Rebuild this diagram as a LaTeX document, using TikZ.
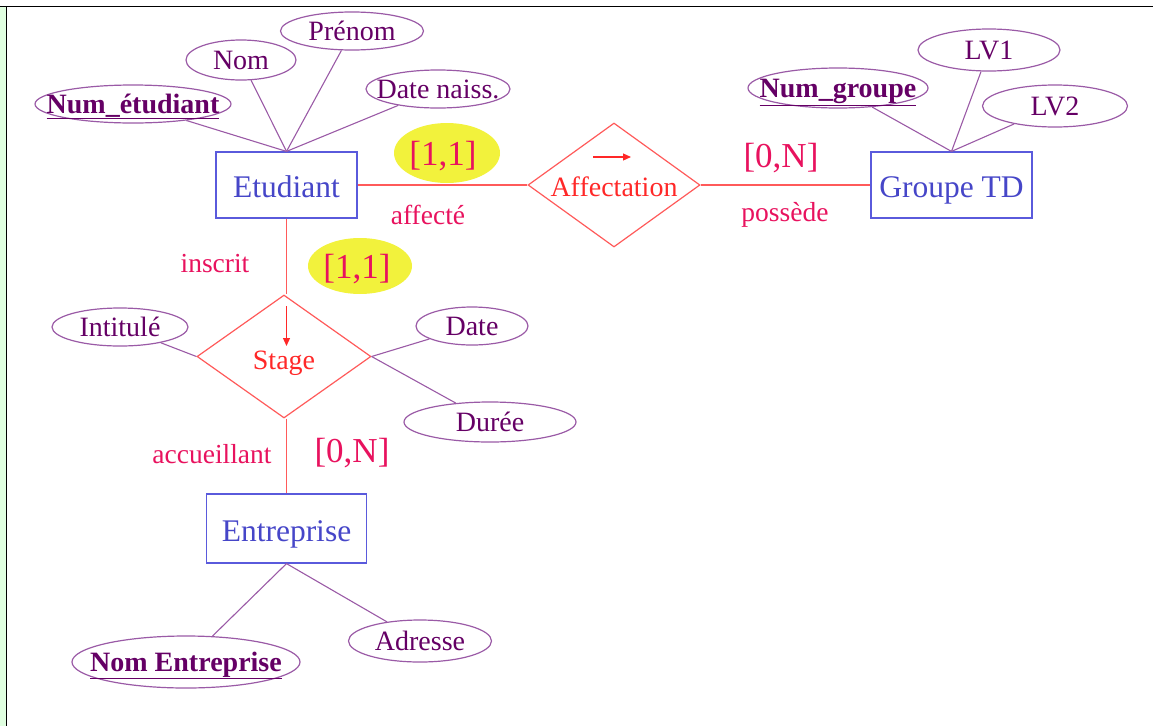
\documentclass[tikz,border=0pt]{standalone}
\usepackage{fontspec}
\setmainfont{Liberation Serif}
\usetikzlibrary{shapes.geometric,arrows.meta}
\definecolor{entblue}{HTML}{5A5ADC}
\definecolor{enttext}{HTML}{4646C8}
\definecolor{relred}{HTML}{FF5A5A}
\definecolor{reltext}{HTML}{FF2828}
\definecolor{attrline}{HTML}{9A5AA6}
\definecolor{attrtext}{HTML}{650065}
\definecolor{cardcol}{HTML}{E8125E}
\definecolor{hilite}{HTML}{F2F23C}
\definecolor{stripgreen}{HTML}{E0FFE0}
\newcommand{\ctxt}[2][-0.33em]{\raisebox{#1}[0pt][0pt]{\makebox[0pt]{#2}}}
\tikzset{
  entity/.style={draw=entblue, line width=1.2pt, text=enttext, minimum width=141, minimum height=66, inner sep=0, font=\fontsize{31.5}{34}\selectfont},
  relation/.style={shape=diamond, draw=relred, line width=1.2pt, text=reltext, inner sep=0, aspect=1.4, font=\fontsize{28}{30}\selectfont},
  attr/.style={shape=ellipse, draw=attrline, line width=1.2pt, text=attrtext, inner sep=0, font=\fontsize{28}{30}\selectfont},
  keyattr/.style={attr, font=\fontsize{28}{30}\selectfont\bfseries},
  attrlink/.style={draw=attrline, line width=1.1pt},
  rellink/.style={draw=relred, line width=1.1pt},
  card/.style={text=cardcol, inner sep=0, font=\fontsize{35}{38}\selectfont},
  role/.style={text=cardcol, inner sep=0, font=\fontsize{27.5}{30}\selectfont},
  hl/.style={shape=ellipse, fill=hilite, inner sep=0},
  tip/.style={draw=reltext, line width=1.2pt, -{Triangle[length=8pt,width=7pt]}}
}
\begin{document}
\begin{tikzpicture}[x=1pt,y=-1pt]
\useasboundingbox (0,0) rectangle (1153,726);
\fill[stripgreen] (0,7) rectangle (5.5,726);
\draw[black, line width=1.2pt] (0,6.5) -- (1153,6.5);
\draw[black, line width=1.2pt] (6.5,6.5) -- (6.5,726);

% highlights
\node[hl, minimum width=106, minimum height=60] (hlA) at (447,153) {};
\node[hl, minimum width=104, minimum height=56] (hlB) at (360,266) {};

% entities
\node[entity] (etu) at (286.5,185) {\ctxt[-0.4em]{Etudiant}};
\node[entity, minimum width=161] (grp) at (951.5,185) {\ctxt[-0.4em]{Groupe TD}};
\node[entity, minimum width=160, minimum height=69] (ent) at (286.5,528.5) {\ctxt[-0.4em]{Entreprise}};

% relations
\node[relation, minimum width=172, minimum height=124] (aff) at (614,185) {\ctxt[-0.4em]{Affectation}};
\node[relation, minimum width=174, minimum height=123] (stg) at (284,356.5) {\ctxt[-0.45em]{Stage}};

% arrows inside relations
\coordinate (affa) at (593,157);
\coordinate (affb) at (631,157);
\draw[tip] (affa) -- (affb);
\coordinate (stga) at (286.5,306);
\coordinate (stgb) at (286.5,346);
\draw[tip] (stga) -- (stgb);

% attributes of Etudiant
\node[keyattr, minimum width=196, minimum height=38] (numet) at (133,104) {\ctxt{\underline{Num\_étudiant}}};
\node[attr, minimum width=110, minimum height=40] (nom) at (241,60) {\ctxt{Nom}};
\node[attr, minimum width=143, minimum height=38] (prenom) at (352,31) {\ctxt{Prénom}};
\node[attr, minimum width=144, minimum height=38] (dnaiss) at (438,89) {\ctxt{Date naiss.}};

% attributes of Groupe TD
\node[keyattr, minimum width=180, minimum height=40] (numgr) at (838,88) {\ctxt{\underline{Num\_groupe}}};
\node[attr, minimum width=142, minimum height=42] (lv1) at (989,50) {\ctxt{LV1}};
\node[attr, minimum width=145, minimum height=42] (lv2) at (1055,106) {\ctxt{LV2}};

% attributes of Stage
\node[attr, minimum width=136, minimum height=38] (intit) at (120,327) {\ctxt{Intitulé}};
\node[attr, minimum width=112, minimum height=38] (sdate) at (472,326) {\ctxt{Date}};
\node[attr, minimum width=172, minimum height=40] (duree) at (490,422) {\ctxt{Durée}};

% attributes of Entreprise
\node[keyattr, minimum width=228, minimum height=52] (noment) at (186,662) {\ctxt{\underline{Nom Entreprise}}};
\node[attr, minimum width=143, minimum height=42] (adr) at (420,641) {\ctxt{Adresse}};

% attribute links
\draw[attrlink] (numet) -- (etu.north);
\draw[attrlink] (nom) -- (etu.north);
\draw[attrlink] (prenom) -- (etu.north);
\draw[attrlink] (dnaiss) -- (etu.north);
\draw[attrlink] (numgr) -- (grp.north);
\draw[attrlink] (lv1) -- (grp.north);
\draw[attrlink] (lv2) -- (grp.north);
\draw[attrlink] (intit) -- (stg.west);
\draw[attrlink] (sdate) -- (stg.east);
\draw[attrlink] (duree) -- (stg.east);
\draw[attrlink] (ent.south) -- (noment);
\draw[attrlink] (ent.south) -- (adr);

% relation links
\draw[rellink] (etu.east) -- (aff.west);
\draw[rellink] (aff.east) -- (grp.west);
\draw[rellink] (etu.south) -- (etu.south |- stg.north);
\draw[rellink] (ent.north |- stg.south) -- (ent.north);

% cardinalities and roles
\node[card] (c1) at (443,156) {[1,1]};
\node[card] (c2) at (781,158) {[0,N]};
\node[card] (c3) at (357,269) {[1,1]};
\node[card] (c4) at (352,453) {[0,N]};
\node[role] (r1) at (428,215) {affecté};
\node[role] (r2) at (785,215) {possède};
\node[role] (r3) at (215,264) {inscrit};
\node[role] (r4) at (212,454) {accueillant};
\end{tikzpicture}
\end{document}
